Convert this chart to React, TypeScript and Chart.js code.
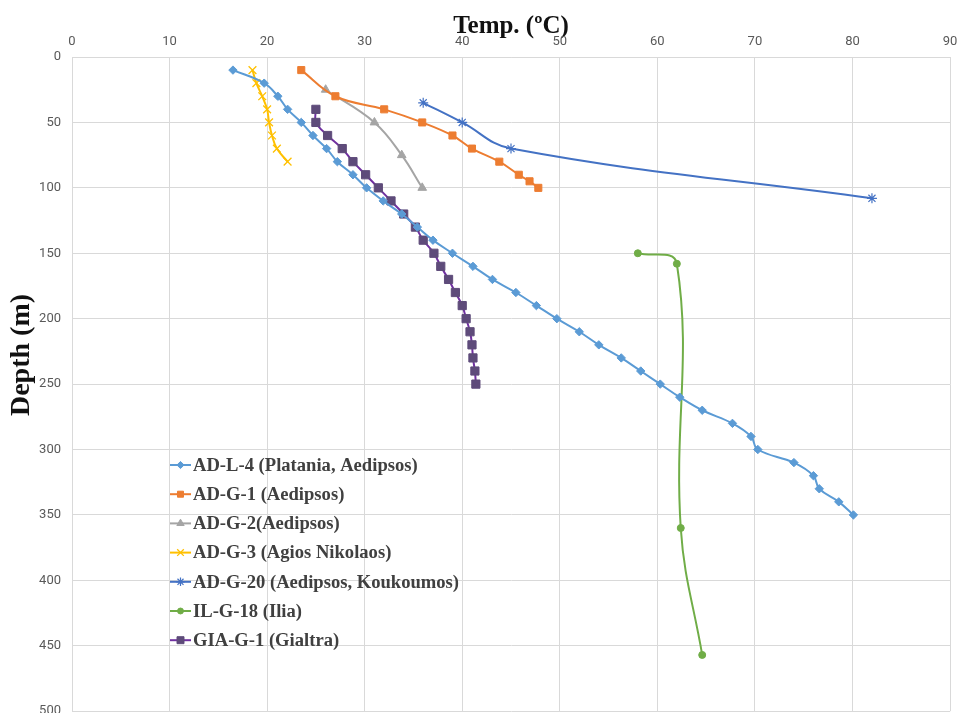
import React, { useEffect, useRef } from 'react';
import { Chart, registerables } from 'chart.js';
import { drawPoint } from 'chart.js/helpers';

Chart.register(...registerables);

// ---- Data ----
const seriesNames = [
  'AD-L-4 (Platania, Aedipsos)',
  'AD-G-1 (Aedipsos)',
  'AD-G-2(Aedipsos)',
  'AD-G-3 (Agios Nikolaos)',
  'AD-G-20 (Aedipsos, Koukoumos)',
  'IL-G-18 (Ilia)',
  'GIA-G-1 (Gialtra)',
];

const adl4Temp = [16.5, 19.7, 21.1, 22.1, 23.5, 24.7, 26.1, 27.2, 28.8, 30.2, 31.9, 33.8, 35.4, 37.0, 39.0, 41.1, 43.1, 45.5, 47.6, 49.7, 52.0, 54.0, 56.3, 58.3, 60.3, 62.3, 64.6, 67.7, 69.6, 70.3, 74.0, 76.0, 76.6, 78.6, 80.1];
const adl4Depth = [10, 20, 30, 40, 50, 60, 70, 80, 90, 100, 110, 120, 130, 140, 150, 160, 170, 180, 190, 200, 210, 220, 230, 240, 250, 260, 270, 280, 290, 300, 310, 320, 330, 340, 350];

const adg1Temp = [23.5, 27.0, 32.0, 35.9, 39.0, 41.0, 43.8, 45.8, 46.9, 47.8];
const adg1Depth = [10, 30, 40, 50, 60, 70, 80, 90, 95, 100];

const adg2Temp = [26.0, 31.0, 33.8, 35.9];
const adg2Depth = [25, 50, 75, 100];

const adg3Temp = [18.5, 18.9, 19.5, 20.0, 20.2, 20.5, 21.0, 22.1];
const adg3Depth = [10, 20, 30, 40, 50, 60, 70, 80];

const adg20Temp = [36, 40, 45, 82];
const adg20Depth = [35, 50, 70, 108];

const ilg18Temp = [58, 62, 62.4, 64.6];
const ilg18Depth = [150, 158, 360, 457];

const giaTemp = [25.0, 25.0, 26.2, 27.7, 28.8, 30.1, 31.4, 32.7, 34.0, 35.2, 36.0, 37.1, 37.8, 38.6, 39.3, 40.0, 40.4, 40.8, 41.0, 41.1, 41.3, 41.4];
const giaDepth = [40, 50, 60, 70, 80, 90, 100, 110, 120, 130, 140, 150, 160, 170, 180, 190, 200, 210, 220, 230, 240, 250];

const tempTicks = [0, 10, 20, 30, 40, 50, 60, 70, 80, 90];
const depthTicks = [0, 50, 100, 150, 200, 250, 300, 350, 400, 450, 500];

const xTitle = 'Temp. (ºC)';
const yTitle = 'Depth (m)';

const toPts = (t: number[], d: number[]) => t.map((v, i) => ({ x: v, y: d[i] }));

const TICK_FONT = "'Liberation Sans Narrow', 'Roboto', sans-serif";
const SERIF = "'Liberation Serif', 'DejaVu Serif', serif";

const legendPlugin = {
  id: 'customLegend',
  afterDraw(chart: any) {
    const ctx = chart.ctx;
    ctx.save();
    const x0 = 170;
    const y0 = 465;
    const step = 29.2;
    chart.data.datasets.forEach((ds: any, i: number) => {
      const y = y0 + i * step;
      ctx.beginPath();
      ctx.strokeStyle = ds.borderColor;
      ctx.lineWidth = 2;
      ctx.moveTo(x0, y);
      ctx.lineTo(x0 + 21, y);
      ctx.stroke();
      ctx.fillStyle = ds.pointBackgroundColor;
      ctx.strokeStyle = ds.pointBorderColor;
      ctx.lineWidth = ds.pointBorderWidth;
      drawPoint(ctx, { pointStyle: ds.pointStyle, radius: ds.pointRadius * 0.85, rotation: 0, borderWidth: ds.pointBorderWidth }, x0 + 10.5, y);
      ctx.fillStyle = '#404040';
      ctx.font = `bold 18.6px ${SERIF}`;
      ctx.textAlign = 'left';
      ctx.textBaseline = 'middle';
      ctx.fillText(ds.label, x0 + 23, y + 1);
    });
    ctx.restore();
  },
};

const yTitlePlugin = {
  id: 'yTitle',
  afterDraw(chart: any) {
    const ctx = chart.ctx;
    ctx.save();
    ctx.translate(22, 355);
    ctx.rotate(-Math.PI / 2);
    ctx.font = `bold 28px ${SERIF}`;
    ctx.fillStyle = '#111111';
    ctx.textAlign = 'center';
    ctx.textBaseline = 'middle';
    ctx.fillText(yTitle, 0, 0);
    ctx.restore();
  },
};

export default function App() {
  const ref = useRef<HTMLCanvasElement>(null);
  useEffect(() => {
    document.body.style.margin = '0';
    const canvas = ref.current;
    if (!canvas) return;
    const mk = (label: string, t: number[], d: number[], color: string, style: string, radius: number, fill: string, lineColor?: string, bw = 1) => ({
      label,
      data: toPts(t, d),
      borderColor: lineColor || color,
      borderWidth: 2,
      tension: 0.4,
      fill: false,
      pointStyle: style,
      pointRadius: radius,
      pointHoverRadius: radius,
      pointBackgroundColor: fill,
      pointBorderColor: color,
      pointBorderWidth: bw,
    });
    const chart = new Chart(canvas, {
      type: 'line',
      data: {
        datasets: [
          mk(seriesNames[0], adl4Temp, adl4Depth, '#5B9BD5', 'rectRot', 4.2, '#5B9BD5'),
          mk(seriesNames[1], adg1Temp, adg1Depth, '#ED7D31', 'rect', 5, '#ED7D31'),
          mk(seriesNames[2], adg2Temp, adg2Depth, '#A5A5A5', 'triangle', 5, '#A5A5A5'),
          mk(seriesNames[3], adg3Temp, adg3Depth, '#FFC000', 'crossRot', 5.5, 'rgba(0,0,0,0)', undefined, 1.3),
          mk(seriesNames[4], adg20Temp, adg20Depth, '#4472C4', 'star', 5, 'rgba(0,0,0,0)', undefined, 1.2),
          mk(seriesNames[5], ilg18Temp, ilg18Depth, '#70AD47', 'circle', 3.5, '#70AD47'),
          mk(seriesNames[6], giaTemp, giaDepth, '#5E4B7A', 'rect', 5.8, '#5E4B7A', '#7030A0'),
        ] as any,
      },
      options: {
        responsive: false,
        animation: false,
        devicePixelRatio: 1,
        layout: { padding: { left: 0, right: 10, top: 0, bottom: 2 } },
        plugins: {
          legend: { display: false },
          tooltip: { enabled: false },
        },
        scales: {
          x: {
            type: 'linear',
            position: 'top',
            min: 0,
            max: 90,
            afterBuildTicks: (scale: any) => {
              scale.ticks = tempTicks.map((v) => ({ value: v }));
            },
            afterFit: (scale: any) => {
              scale.height = 57;
              scale.paddingLeft = 0;
              scale.paddingRight = 0;
            },
            ticks: {
              color: '#595959',
              font: { family: TICK_FONT, size: 13 },
              padding: 7,
              maxRotation: 0,
            },
            grid: { color: '#D9D9D9', drawTicks: false, lineWidth: 1 },
            border: { display: true, color: '#D9D9D9' },
            title: {
              display: true,
              text: xTitle,
              color: '#111111',
              font: { family: SERIF, size: 25, weight: 'bold' },
              padding: { top: 12, bottom: 0 },
            },
          },
          y: {
            type: 'linear',
            reverse: true,
            min: 0,
            max: 500,
            afterBuildTicks: (scale: any) => {
              scale.ticks = depthTicks.map((v) => ({ value: v }));
            },
            afterFit: (scale: any) => {
              scale.width = 72;
              scale.paddingTop = 0;
              scale.paddingBottom = 0;
            },
            ticks: {
              color: '#595959',
              font: { family: TICK_FONT, size: 13 },
              padding: 11,
            },
            grid: { color: '#D9D9D9', drawTicks: false, lineWidth: 1 },
            border: { display: true, color: '#D9D9D9' },
            title: { display: false },
          },
        },
      } as any,
      plugins: [legendPlugin, yTitlePlugin],
    });
    return () => chart.destroy();
  }, []);
  return (
    <div style={{ width: 960, height: 713, overflow: 'hidden', position: 'relative', background: '#fff' }}>
      <canvas ref={ref} width={960} height={718} style={{ display: 'block', width: 960, height: 718 }} />
    </div>
  );
}
